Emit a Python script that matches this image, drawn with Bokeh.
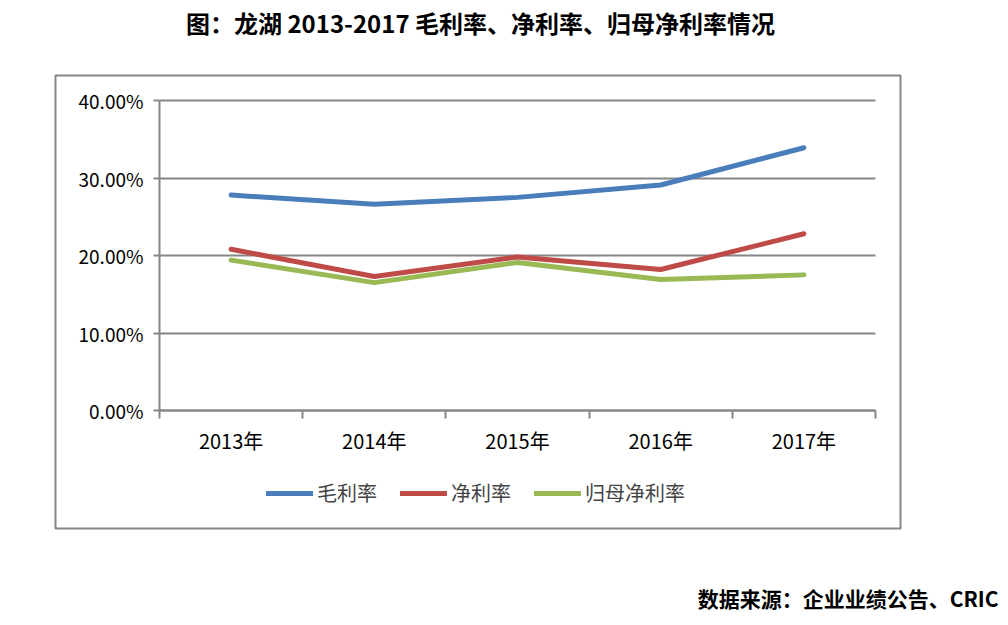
from bokeh.plotting import figure
from bokeh.models import (Range1d, FixedTicker, NumeralTickFormatter, Legend, LegendItem,
                          Label, BoxAnnotation, LinearAxis, Grid)
from bokeh.embed import file_html
from bokeh.resources import INLINE

# ---- data ----
years = ["2013年", "2014年", "2015年", "2016年", "2017年"]
gross_margin = [0.278, 0.266, 0.275, 0.291, 0.339]
net_margin = [0.208, 0.173, 0.198, 0.182, 0.228]
parent_net_margin = [0.194, 0.165, 0.191, 0.169, 0.175]
series_names = ["毛利率", "净利率", "归母净利率"]
y_ticks = [0.0, 0.1, 0.2, 0.3, 0.4]
title_text = "图：龙湖 2013-2017 毛利率、净利率、归母净利率情况"
source_text = "数据来源：企业业绩公告、CRIC"

FONT = "Noto Sans CJK SC"
GREY = "#868686"
colors = ["#4A7EBB", "#BE4B48", "#98B954"]

# ---- layout (pixels) ----
W, H = 1000, 617
PL, PR, PT, PB = 159, 875, 100, 410      # plot area
n = len(years)
YMAX = y_ticks[-1]
sx = (PR - PL) / n
sy = (PB - PT) / YMAX


def ux(px):
    return (px - PL) / sx


def uy(py):
    return (PB - py) / sy


xs = [i + 0.5 for i in range(n)]
bounds = [float(i) for i in range(n + 1)]

p = figure(x_range=Range1d(ux(0), ux(W)), y_range=Range1d(uy(H), uy(0)),
           width=W, height=H, min_border=0,
           output_backend="svg", toolbar_location=None,
           x_axis_type=None, y_axis_type=None)
p.outline_line_color = None
p.background_fill_color = "white"
p.border_fill_color = "white"

# grid
grid = Grid(dimension=1, ticker=FixedTicker(ticks=y_ticks), grid_line_color=GREY, grid_line_width=2)
try:
    grid.cross_bounds = (0, n)
except Exception:
    pass
p.add_layout(grid)

# y axis
yax = LinearAxis(ticker=FixedTicker(ticks=y_ticks, minor_ticks=[]),
                 formatter=NumeralTickFormatter(format="0.00%"),
                 fixed_location=0, bounds=(0, YMAX))
yax.axis_line_color = GREY
yax.axis_line_width = 2
yax.major_tick_line_color = GREY
yax.major_tick_line_width = 2
yax.major_tick_out = 6
yax.major_tick_in = 0
yax.minor_tick_line_color = None
yax.major_label_text_font = FONT
yax.major_label_text_font_size = "19px"
yax.major_label_text_color = "black"
yax.major_label_standoff = 10
p.add_layout(yax, "left")

# x axis
xax = LinearAxis(ticker=FixedTicker(ticks=xs, minor_ticks=bounds),
                 major_label_overrides={x: y for x, y in zip(xs, years)},
                 fixed_location=0, bounds=(0, n))
xax.axis_line_color = GREY
xax.axis_line_width = 2
xax.major_tick_line_color = None
xax.major_tick_out = 0
xax.major_tick_in = 0
xax.minor_tick_line_color = GREY
xax.minor_tick_line_width = 2
xax.minor_tick_out = 8
xax.minor_tick_in = 0
xax.major_label_text_font = FONT
xax.major_label_text_font_size = "20px"
xax.major_label_text_color = "black"
xax.major_label_standoff = 7
p.add_layout(xax, "below")

# box around chart area
box = BoxAnnotation(left=ux(55), right=ux(900), top=uy(75), bottom=uy(528),
                    fill_alpha=0, fill_color=None, line_color=GREY, line_alpha=1.0,
                    line_width=2, level="underlay")
p.add_layout(box)

renderers = []
for vals, c in zip([gross_margin, net_margin, parent_net_margin], colors):
    r = p.line(xs, vals, line_width=5, line_color=c, line_cap="round", line_join="round")
    renderers.append(r)

legend = Legend(items=[LegendItem(label=nm, renderers=[r]) for nm, r in zip(series_names, renderers)],
                orientation="horizontal", location=(266, H - 507),
                glyph_width=47, glyph_height=20, label_height=20,
                label_text_font=FONT, label_text_font_size="20px",
                label_standoff=4, spacing=23, padding=0, margin=0,
                border_line_color=None, background_fill_alpha=0)
p.add_layout(legend)

p.add_layout(Label(x=ux(480), y=uy(22), text=title_text, text_align="center", text_baseline="middle",
                   text_font=FONT, text_font_size="24px", text_font_style="bold", text_color="black"))
p.add_layout(Label(x=ux(998), y=uy(597), text=source_text, text_align="right", text_baseline="middle",
                   text_font=FONT, text_font_size="21px", text_font_style="bold", text_color="black"))

open("out.html", "w").write(file_html(p, INLINE))
